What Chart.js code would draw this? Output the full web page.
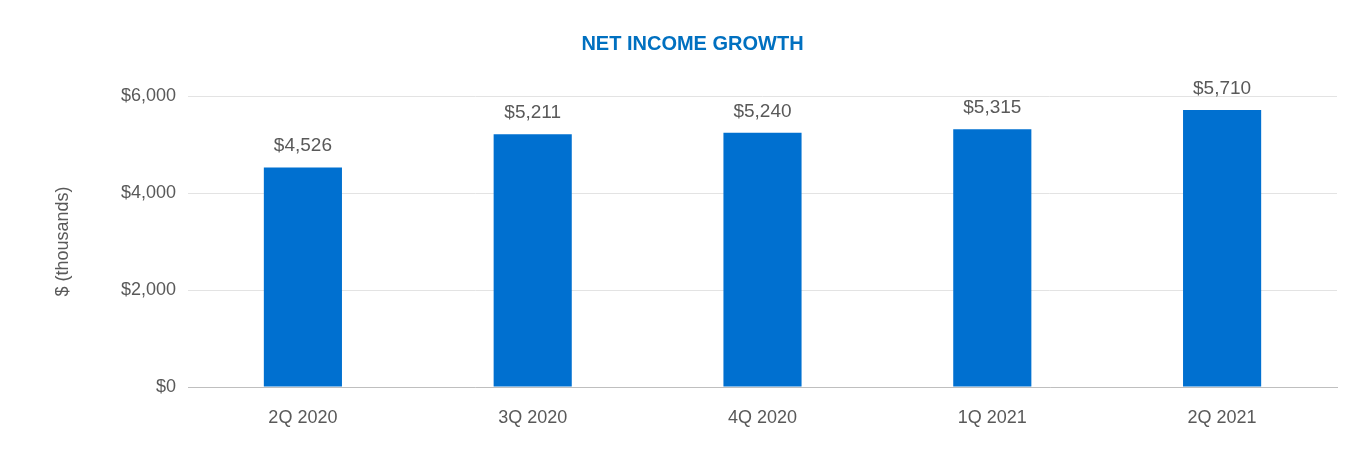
<!DOCTYPE html>
<html><head><meta charset="utf-8">
<script src="https://cdn.jsdelivr.net/npm/chart.js@4"></script>
<style>html,body{margin:0;padding:0;background:#fff}#w{width:1368px;height:464px}</style>
</head><body><div id="w"><canvas id="c"></canvas></div>
<script>
const categories = ["2Q 2020","3Q 2020","4Q 2020","1Q 2021","2Q 2021"];
const netIncome = [4526,5211,5240,5315,5710];
const yTicks = [0,2000,4000,6000];
const FONT = "'Liberation Sans', 'Open Sans', sans-serif";
const labelPlugin = {
  id:'labels',
  afterDatasetsDraw(chart){
    const ctx=chart.ctx, meta=chart.getDatasetMeta(0);
    ctx.save();ctx.font='19px '+FONT;ctx.fillStyle='#595959';ctx.textAlign='center';ctx.textBaseline='bottom';
    meta.data.forEach((b,i)=>ctx.fillText('$'+netIncome[i].toLocaleString('en-US'),b.x,b.y-12));
    ctx.restore();
  }
};
new Chart(document.getElementById('c'),{
  type:'bar',
  data:{labels:categories,datasets:[{data:netIncome,backgroundColor:'#0070d0',barPercentage:0.34,categoryPercentage:1}]},
  options:{
    responsive:true,maintainAspectRatio:false,animation:false,
    layout:{padding:{left:48,right:31,top:0,bottom:18}},
    plugins:{legend:{display:false},tooltip:{enabled:false},
      title:{display:true,text:'NET INCOME GROWTH',color:'#0070c0',font:{family:FONT,size:20,weight:'bold'},padding:{top:32,bottom:40}}},
    scales:{
      x:{grid:{display:false},border:{color:'#bfbfbf'},ticks:{color:'#595959',font:{family:FONT,size:18},padding:12},
         afterFit(s){s.height=59;}},
      y:{min:0,max:6000,afterBuildTicks(s){s.ticks=yTicks.map(v=>({value:v}));},
         grid:{color:'#e3e3e3',drawTicks:false},border:{display:false},
         ticks:{color:'#595959',font:{family:FONT,size:18},padding:12,callback:v=>'$'+v.toLocaleString('en-US')},
         title:{display:true,text:'$ (thousands)',color:'#595959',font:{family:FONT,size:18},padding:{bottom:6}},
         afterFit(s){s.width=140;}}
    }
  },
  plugins:[labelPlugin]
});
</script></body></html>
